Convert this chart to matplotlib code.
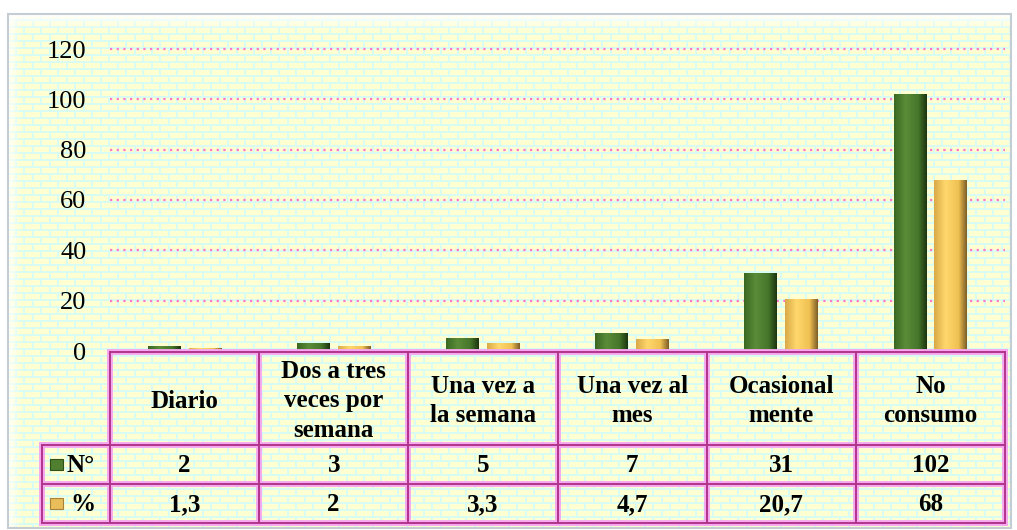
import numpy as np
import matplotlib
matplotlib.use("Agg")
import matplotlib.pyplot as plt
from matplotlib.colors import LinearSegmentedColormap, to_rgb
from matplotlib.patches import Rectangle

# ---------------- data ----------------
categories = ['Diario', 'Dos a tres\nveces por\nsemana', 'Una vez a\nla semana',
              'Una vez al\nmes', 'Ocasional\nmente', 'No\nconsumo']
n_values = [2, 3, 5, 7, 31, 102]
pct_values = [1.3, 2, 3.3, 4.7, 20.7, 68]
n_labels = ['2', '3', '5', '7', '31', '102']
pct_labels = ['1,3', '2', '3,3', '4,7', '20,7', '68']
row_labels = ['N°', '%']
yticks = [0, 20, 40, 60, 80, 100, 120]

W, H = 1017, 530
fig = plt.figure(figsize=(W / 100, H / 100), dpi=100)
fig.patch.set_facecolor('white')

SERIF = ['Liberation Serif', 'DejaVu Serif']

# ---------------- background (frame + brick texture) ----------------
bg = fig.add_axes([0, 0, 1, 1], zorder=0)
bg.set_xlim(0, W)
bg.set_ylim(H, 0)
bg.axis('off')

fx0, fy0, fx1, fy1 = 8, 14, 1011, 528
bh, bw = fy1 - fy0, fx1 - fx0
brick = np.array(to_rgb('#ffffd2'))
mortar = np.array(to_rgb('#d8fcf2'))
yy, xx = np.mgrid[0:bh, 0:bw]
row = yy // 7
xs = (xx + (row % 2) * 8) % 17
is_brick = ((yy % 7) < 5) & (xs < 15)
img = np.where(is_brick[..., None], brick, mortar)
bg.imshow(img, extent=[fx0, fx1, fy1, fy0], interpolation='nearest', aspect='auto', zorder=1)
# top bevel highlight
alpha = np.clip(1 - np.linspace(0, 1, 20), 0, 1) ** 1.5
top = np.ones((20, 1, 4))
top[:, 0, 3] = alpha
bg.imshow(top, extent=[fx0, fx1, fy0 + 20, fy0], aspect='auto', zorder=2)
left = np.ones((1, 14, 4))
left[0, :, 3] = np.linspace(0.8, 0, 14)
bg.imshow(left, extent=[fx0, fx0 + 14, fy1, fy0], aspect='auto', zorder=2)
bg.add_patch(Rectangle((fx0, fy0), bw, bh, fill=False, edgecolor='#c4ccd4', lw=1.5, zorder=3))
bg.set_xlim(0, W)
bg.set_ylim(H, 0)

# ---------------- main chart ----------------
px_left, px_right, px_bottom, px_top = 110, 1005, 351, 49
ax = fig.add_axes([px_left / W, 1 - px_bottom / H, (px_right - px_left) / W,
                   (px_bottom - px_top) / H], zorder=2)
ax.patch.set_alpha(0)
for s in ax.spines.values():
    s.set_visible(False)

x = np.arange(len(categories))
bw_ = 0.22
off = 0.137

green_cmap = LinearSegmentedColormap.from_list(
    'g', [(0, '#3a6822'), (0.35, '#5a8c38'), (0.75, '#45752a'), (1, '#1c3510')])
yellow_cmap = LinearSegmentedColormap.from_list(
    'y', [(0, '#d9aa48'), (0.35, '#ffd86c'), (0.75, '#f0c052'), (1, '#7e5f28')])

bars_n = ax.bar(x - off, n_values, bw_, color='#4f7f2f', zorder=3, linewidth=0)
bars_p = ax.bar(x + off, pct_values, bw_, color='#f4c95c', zorder=3, linewidth=0)

grad = np.linspace(0, 1, 64).reshape(1, -1)
for bars, cmap in ((bars_n, green_cmap), (bars_p, yellow_cmap)):
    for b in bars:
        bx, by = b.get_xy()
        w, h = b.get_width(), b.get_height()
        im = ax.imshow(grad, cmap=cmap, extent=[bx, bx + w, by, by + h],
                       aspect='auto', origin='lower', zorder=3.5, interpolation='bilinear')
        im.set_clip_path(b)

ax.set_xlim(-0.5, len(categories) - 0.5)
ax.set_ylim(0, 120)
ax.set_yticks(yticks)
ax.set_yticklabels([str(v) for v in yticks], fontfamily=SERIF, fontsize=19)
ax.tick_params(axis='y', length=0, pad=17)
ax.set_xticks([])
ax.yaxis.grid(True, color='#ff77c8', linestyle=(0, (1, 2)), linewidth=1.6, zorder=1)
for gl in ax.get_ygridlines():
    gl.set_clip_on(False)
ax.set_axisbelow(True)

# ---------------- data table ----------------
scale = (px_right - px_left) / len(categories)
tab_left_px = 42
xl = -0.5 - (px_left - tab_left_px) / scale
tab_top, tab_bot = 352, 523
tab = fig.add_axes([tab_left_px / W, 1 - tab_bot / H, (px_right - tab_left_px) / W,
                    (tab_bot - tab_top) / H], zorder=3)
tab.set_xlim(xl, len(categories) - 0.5)
tab.set_ylim(tab_bot, tab_top)
tab.axis('off')

r1, r2 = 445, 484
edges = np.arange(len(categories) + 1) - 0.5


def tline(xs, ys):
    tab.plot(xs, ys, color='#f5a6ee', lw=4.2, solid_capstyle='projecting', zorder=1, clip_on=False)
    tab.plot(xs, ys, color='#b0358a', lw=1.4, solid_capstyle='projecting', zorder=2, clip_on=False)


# horizontal lines
tline([-0.5, edges[-1]], [tab_top, tab_top])
for yv in (r1, r2, tab_bot):
    tline([xl, edges[-1]], [yv, yv])
# vertical lines
for e in edges:
    tline([e, e], [tab_top, tab_bot])
tline([xl, xl], [r1, tab_bot])

tfont = dict(fontfamily=SERIF, fontsize=18, fontweight='bold', ha='center', va='center')
for i, c in enumerate(categories):
    tab.text(x[i], 401, c, linespacing=1.38, **tfont)
    tab.text(x[i], (r1 + r2) / 2 + 1, n_labels[i], **tfont)
    tab.text(x[i], (r2 + tab_bot) / 2 + 1, pct_labels[i], **tfont)

# legend keys in row labels
kx0 = xl + 8 / scale
kw = 13 / scale
tab.add_patch(Rectangle((kx0, 459), kw, 11, facecolor='#4f7f2f', edgecolor='#2f5018', lw=0.8, zorder=3))
tab.add_patch(Rectangle((kx0, 498), kw, 11, facecolor='#e8bd5a', edgecolor='#a8823a', lw=0.8, zorder=3))
tab.text(xl + 24 / scale, (r1 + r2) / 2 + 1, row_labels[0], fontfamily=SERIF, fontsize=18,
         fontweight='bold', ha='left', va='center')
tab.text(xl + 28 / scale, (r2 + tab_bot) / 2 + 1, row_labels[1], fontfamily=SERIF, fontsize=18,
         fontweight='bold', ha='left', va='center')

fig.savefig('out.png', dpi=100)
